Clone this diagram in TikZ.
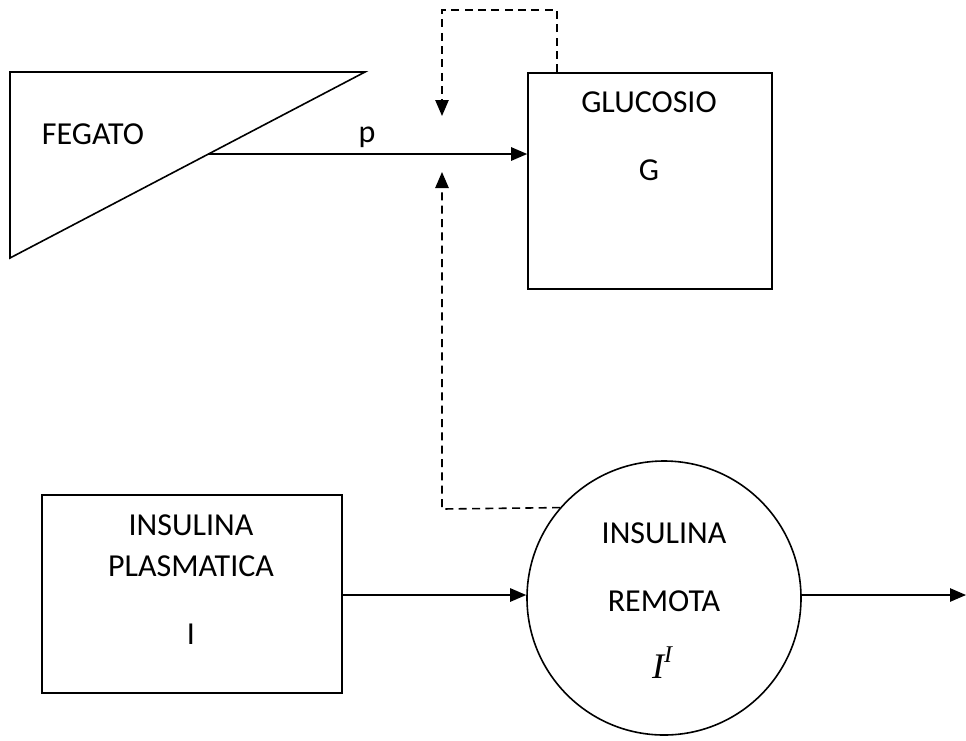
\documentclass[tikz,border=0pt]{standalone}
\usepackage{fontspec}
\setmainfont{Carlito}
\newfontfamily\serifit{Liberation Serif}
\usetikzlibrary{arrows.meta}
\begin{document}
\begin{tikzpicture}[x=0.75pt,y=-0.75pt,
  line width=1.2pt,
  arr/.style={-{Triangle[length=12pt,width=10pt]}},
  dsh/.style={dashed,dash pattern=on 6pt off 4pt},
  txt/.style={font=\fontsize{24}{28}\selectfont,inner sep=0pt}]
\useasboundingbox (0,0) rectangle (966,740);
% Fegato triangle
\draw (10,72) coordinate (t1) -- (365,72) coordinate (t2) -- (10,258) coordinate (t3) -- cycle;
\node[txt] (fegato) at (93,134) {FEGATO};
\coordinate (pstart) at (209,154);
% Glucosio box
\node[draw,minimum width=244*0.75pt,minimum height=216*0.75pt,inner sep=0pt] (gluc) at (650,181) {};
\node[txt] (glt) at (649,102) {GLUCOSIO};
\node[txt] (g) at (649,170) {G};
\draw[arr] (pstart) -- (gluc.west |- pstart);
\node[txt] (p) at (367,137) {p};
% Insulina plasmatica
\node[draw,minimum width=300*0.75pt,minimum height=198*0.75pt,inner sep=0pt] (plas) at (192,594) {};
\node[txt] (pl1) at (191,525) {INSULINA};
\node[txt] (pl2) at (191,566) {PLASMATICA};
\node[txt] (pl3) at (191,634) {I};
% Insulina remota
\node[draw,circle,minimum size=274*0.75pt,inner sep=0pt] (rem) at (664,598) {};
\node[txt] (r1) at (664,533) {INSULINA};
\node[txt] (r2) at (664,601) {REMOTA};
\node[font=\fontsize{27}{30}\selectfont\serifit\itshape,inner sep=0pt] (r3) at (662,663) {I\raisebox{0.45em}{\fontsize{18}{20}\selectfont I}};
\draw[arr] (plas.east |- 0,595) -- (rem.west |- 0,595);
\coordinate (outend) at (966,595);
\draw[arr] (rem.east |- outend) -- (outend);
% dashed feedbacks
\draw[dsh,arr] (gluc.north -| 557,0) -- (557,10) -- (442,10) -- (442,116);
\draw[dsh,arr] (rem.139.4) -- (442,509) -- (442,172);
\end{tikzpicture}
\end{document}
